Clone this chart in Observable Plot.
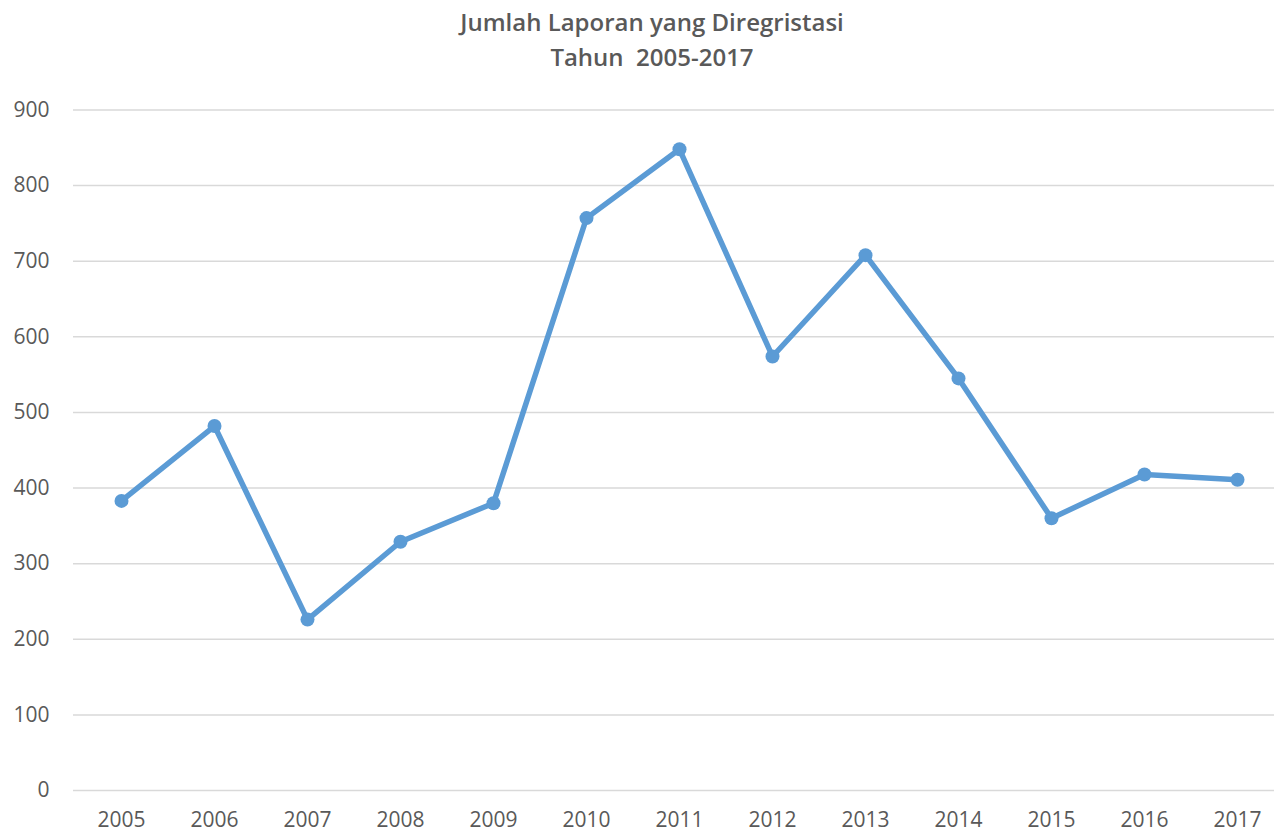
<!DOCTYPE html>
<html>
<head>
<meta charset="utf-8">
<script src="https://cdn.jsdelivr.net/npm/d3@7"></script>
<script src="https://cdn.jsdelivr.net/npm/@observablehq/plot@0.6"></script>
<style>
  html, body { margin: 0; padding: 0; background: #fff; overflow: hidden; }
  #title { height: 90px; box-sizing: border-box; padding-top: 4px; padding-left: 30px; text-align: center;
    font-family: "Open Sans", sans-serif; font-weight: 600; font-size: 24px; color: #595959; line-height: 35px; }
  #chart svg { display: block; }
</style>
</head>
<body>
<div id="title">Jumlah Laporan yang Diregristasi<br>Tahun&nbsp; 2005-2017</div>
<div id="chart"></div>
<script>
const years = ["2005","2006","2007","2008","2009","2010","2011","2012","2013","2014","2015","2016","2017"];
const values = [383, 482, 226, 329, 380, 757, 848, 574, 708, 545, 360, 418, 411];
const yTicks = [0, 100, 200, 300, 400, 500, 600, 700, 800, 900];

const data = years.map((y, i) => ({year: y, value: values[i]}));
const blue = "#5B9BD5";

const chart = Plot.plot({
  width: 1274,
  height: 743,
  marginTop: 19.5,
  marginBottom: 43,
  marginLeft: 73,
  marginRight: 0,
  style: {fontFamily: "'Open Sans', sans-serif", fontSize: "21px", color: "#595959", background: "#fff"},
  x: {type: "point", domain: years, range: [120, 1238], padding: 0, label: null},
  y: {domain: [0, 900], label: null},
  marks: [
    Plot.ruleY(yTicks, {stroke: "#d9d9d9", strokeWidth: 1.5, strokeOpacity: 1}),
    Plot.axisY(yTicks, {tickSize: 0, tickPadding: 24, fill: "#595959", fontSize: 21, label: null}),
    Plot.axisX(years, {tickSize: 0, tickPadding: 22, fill: "#595959", fontSize: 21, label: null}),
    Plot.line(data, {x: "year", y: "value", stroke: blue, strokeWidth: 5.5, strokeLinejoin: "round"}),
    Plot.dot(data, {x: "year", y: "value", r: 7, fill: blue, stroke: "none"})
  ]
});
document.getElementById("chart").appendChild(chart);
</script>
</body>
</html>
